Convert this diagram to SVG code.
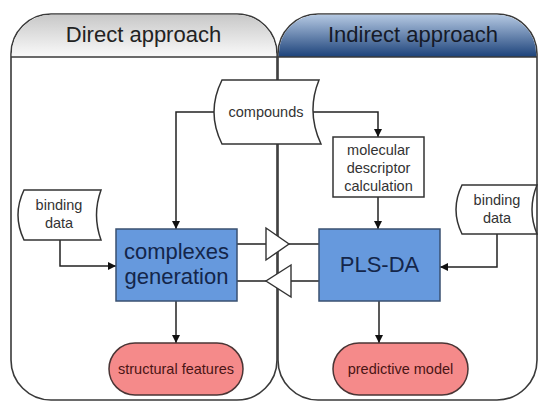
<svg xmlns="http://www.w3.org/2000/svg" width="539" height="401" viewBox="0 0 539 401">
<defs>
<linearGradient id="gL" x1="0" y1="0" x2="0" y2="1">
<stop offset="0" stop-color="#c8c8c8"/>
<stop offset="1" stop-color="#fafafa"/>
</linearGradient>
<linearGradient id="gR" x1="0" y1="0" x2="0" y2="1">
<stop offset="0" stop-color="#b4c8e2"/>
<stop offset="1" stop-color="#1c427a"/>
</linearGradient>
<marker id="ah" viewBox="0 0 10 10" refX="10" refY="5" markerWidth="8" markerHeight="8" markerUnits="userSpaceOnUse" orient="auto">
<path d="M0,0 L10,5 L0,10 Z" fill="#111"/>
</marker>
<style>
.panel{fill:#fff;stroke:#3a3a3a;stroke-width:1.6}
.hdr{stroke:none}
.t{font-family:"Liberation Sans",Arial,sans-serif;text-anchor:middle}
.h{font-size:22px;fill:#222}
.s{font-size:14.5px;fill:#333}
.big{font-size:22px;fill:#14264a}
.doc{fill:#fff;stroke:#333;stroke-width:1.5}
.box{fill:#6699dd;stroke:#3a5070;stroke-width:1.5}
.rect{fill:#fff;stroke:#333;stroke-width:1.5}
.pill{fill:#f58a8a;stroke:#4a3535;stroke-width:1.5}
.pt{font-size:14.5px;fill:#4a1515}
.c{fill:none;stroke:#222;stroke-width:1.5}
.tri{fill:#fff;stroke:#333;stroke-width:1.4}
</style>
</defs>

<g id="panel-direct">
<path class="panel" d="M11,360 L11,54 A40,40 0 0 1 51,14 L237,14 A40,40 0 0 1 277,54 L277,360 A40,40 0 0 1 237,400 L51,400 A40,40 0 0 1 11,360 Z"/>
<path class="hdr" fill="url(#gL)" d="M11.8,57 L11.8,54 A39.2,39.2 0 0 1 51,14.8 L237,14.8 A39.2,39.2 0 0 1 276.2,54 L276.2,57 Z"/>
<text class="t h" x="143.5" y="42">Direct approach</text>
</g>

<g id="panel-indirect">
<path class="panel" d="M278,360 L278,54 A40,40 0 0 1 318,14 L497,14 A40,40 0 0 1 537,54 L537,360 A40,40 0 0 1 497,400 L318,400 A40,40 0 0 1 278,360 Z"/>
<path class="hdr" fill="url(#gR)" d="M278.8,57 L278.8,54 A39.2,39.2 0 0 1 318,14.8 L497,14.8 A39.2,39.2 0 0 1 536.2,54 L536.2,57 Z"/>
<text class="t h" x="413" y="42" fill="#151a28" style="fill:#151a28">Indirect approach</text>
</g>
<line x1="11" y1="57" x2="537" y2="57" stroke="#3a3a3a" stroke-width="1.6"/>

<g id="connectors">
<path class="c" d="M214,112 L176,112 L176,229" marker-end="url(#ah)"/>
<path class="c" d="M313,112 L378,112 L378,137" marker-end="url(#ah)"/>
<path class="c" d="M378,197 L378,229" marker-end="url(#ah)"/>
<path class="c" d="M60,240 L60,266 L116,266" marker-end="url(#ah)"/>
<path class="c" d="M497,234 L497,267 L440,267" marker-end="url(#ah)"/>
<path class="c" d="M176,301 L176,343" marker-end="url(#ah)"/>
<path class="c" d="M379,301 L379,343" marker-end="url(#ah)"/>
<path class="c" d="M237,244 L266,244 M289,244 L319,244"/>
<path class="c" d="M319,281 L291,281 M266,281 L237,281"/>
<path class="tri" d="M266,228 L289,244 L266,260 Z"/>
<path class="tri" d="M291,265 L266,281 L291,297 Z"/>
</g>

<g id="compounds">
<path class="doc" d="M222,80 L319,80 Q306,112 321,144 L222,144 Q206,112 222,80 Z"/>
<text class="t s" x="266" y="117">compounds</text>
</g>

<g id="molecular-descriptor">
<rect class="rect" x="333" y="137" width="91" height="60"/>
<text class="t s" x="378.5" y="155">molecular</text>
<text class="t s" x="378.5" y="173">descriptor</text>
<text class="t s" x="378.5" y="191">calculation</text>
</g>

<g id="binding-data-left">
<path class="doc" d="M24,190 L101,190 Q92,215 101,240 L24,240 Q12,215 24,190 Z"/>
<text class="t s" x="59" y="210">binding</text>
<text class="t s" x="59" y="228">data</text>
</g>

<g id="binding-data-right">
<path class="doc" d="M462,185 L537,185 Q527,209.5 537,234 L462,234 Q450,209.5 462,185 Z"/>
<text class="t s" x="497" y="205">binding</text>
<text class="t s" x="497" y="223">data</text>
</g>

<g id="complexes-generation">
<rect class="box" x="116" y="229" width="121" height="72"/>
<text class="t big" x="176.5" y="259">complexes</text>
<text class="t big" x="176.5" y="284">generation</text>
</g>

<g id="pls-da">
<rect class="box" x="319" y="229" width="121" height="72"/>
<text class="t big" x="379.5" y="272">PLS-DA</text>
</g>

<g id="structural-features">
<rect class="pill" x="109" y="343" width="134" height="52" rx="26" ry="26"/>
<text class="t pt" x="176" y="374">structural features</text>
</g>

<g id="predictive-model">
<rect class="pill" x="333" y="343" width="135" height="52" rx="26" ry="26"/>
<text class="t pt" x="400.5" y="374">predictive model</text>
</g>
</svg>
